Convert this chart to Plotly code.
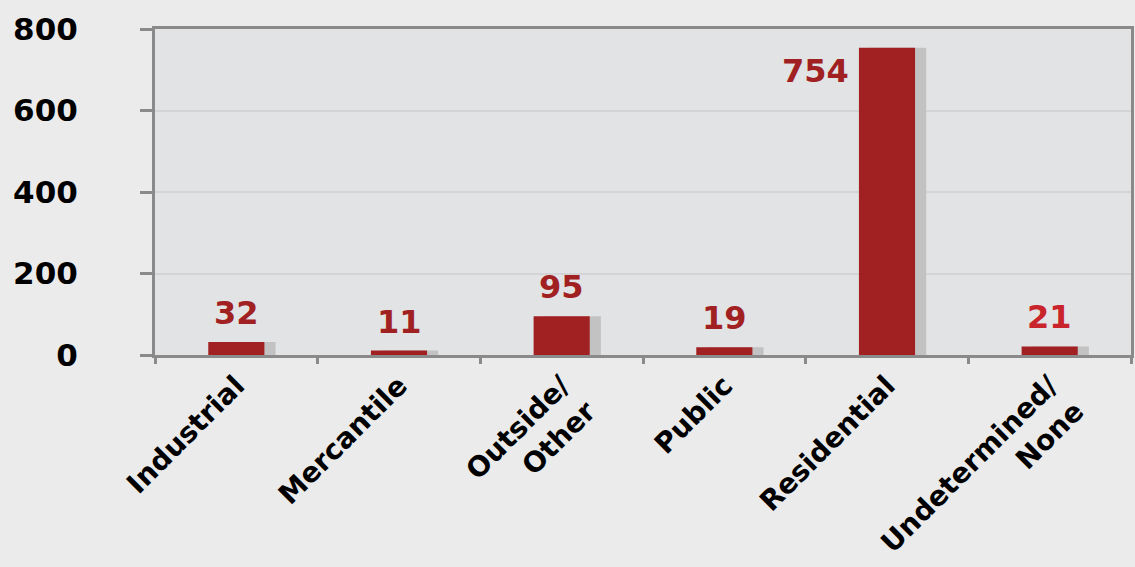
import plotly.graph_objects as go

categories = ["Industrial", "Mercantile", "Outside/<br>Other", "Public",
              "Residential", "Undetermined/<br>None"]
values = [32, 11, 95, 19, 754, 21]
y_ticks = [0, 200, 400, 600, 800]

RED = "#a12122"
SHADOW = "#c2c2c2"
GRAY = "#8a8a8a"
FONT = "DejaVu Sans"

fig = go.Figure()

# shadow behind each bar, nudged right
fig.add_trace(go.Bar(x=categories, y=values, marker_color=SHADOW,
                     marker_line_width=0, width=0.345, offset=-0.104,
                     hoverinfo="skip"))
fig.add_trace(go.Bar(x=categories, y=values, marker_color=RED,
                     marker_line_width=0, width=0.345, offset=-0.1725))

label_colors = [RED, RED, RED, RED, RED, "#c9242b"]
for cat, val, col in zip(categories, values, label_colors):
    if val > 0.8 * max(values):
        # tall bar: number sits to the left of the top
        fig.add_annotation(x=cat, y=val, text="<b>%d</b>" % val, showarrow=False,
                           xanchor="right", yanchor="top", xshift=-36, yshift=-2,
                           font=dict(family=FONT, size=32, color=col))
    else:
        fig.add_annotation(x=cat, y=val, text="<b>%d</b>" % val, showarrow=False,
                           xanchor="center", yanchor="bottom", yshift=8,
                           font=dict(family=FONT, size=32, color=col))

fig.update_layout(
    width=1135, height=567,
    margin=dict(l=155, r=4, t=29, b=212),
    paper_bgcolor="#ebebeb",
    plot_bgcolor="#e2e3e4",
    barmode="overlay",
    showlegend=False,
    font=dict(family=FONT, color="black"),
)

fig.update_xaxes(
    automargin=False,
    showline=True, linecolor=GRAY, linewidth=3, mirror=True,
    ticks="outside", tickson="boundaries", ticklen=6, tickwidth=3, tickcolor=GRAY,
    tickangle=-45, tickfont=dict(family=FONT, size=28, color="black", weight="bold"),
    showgrid=False,
)
fig.update_yaxes(
    automargin=False,
    range=[0, 800], tickvals=y_ticks,
    showline=True, linecolor=GRAY, linewidth=3, mirror=True,
    ticks="outside", ticklen=12, tickwidth=3, tickcolor=GRAY,
    tickfont=dict(family=FONT, size=31, color="black", weight="bold"),
    ticklabelstandoff=56,
    showgrid=True, gridcolor="#d3d4d5", gridwidth=2, zeroline=False,
)

fig.write_html("out.html", config={"displayModeBar": False},
               post_script="document.body.style.margin='0';")
